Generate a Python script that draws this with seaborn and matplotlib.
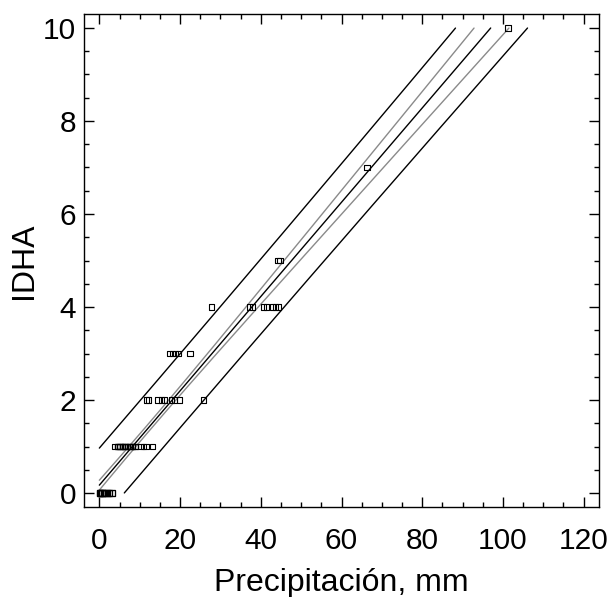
import numpy as np
import pandas as pd
import matplotlib
matplotlib.use("Agg")
import matplotlib.pyplot as plt
import seaborn as sns
from matplotlib.ticker import MultipleLocator

# ---- data (dense clusters hold overlapping points) ----
precip_0 = [0.0, 0.0, 0.0, 0.0, 0.3, 0.3, 0.3, 0.3, 0.6, 0.6, 0.6, 0.6,
            1.0, 1.0, 1.0, 1.0, 1.5, 1.5, 1.5, 2.0, 2.0, 2.0, 2.5, 2.5, 2.5,
            3.2, 3.2, 3.2]
precip_1 = [3.8, 4.5, 4.5, 4.5, 4.5, 5.1, 5.1, 5.1, 5.1, 5.7, 5.7, 5.7, 5.7,
            6.3, 6.3, 6.3, 6.3, 7.0, 7.0, 7.0, 7.6, 7.6, 7.6, 8.2, 8.2, 8.2,
            8.8, 8.8, 8.8, 10.3, 10.9, 11.5, 13.2]
precip_2 = [11.7, 12.2, 14.6, 15.4, 16.1, 17.9, 18.6, 19.9, 25.8]
precip_3 = [17.4, 18.1, 18.9, 19.6, 22.5]
precip_4 = [27.8, 37.2, 38.0, 40.7, 41.4, 42.9, 43.7, 44.4]
precip_5 = [44.2, 44.8]
precip_7 = [66.3]
precip_10 = [101.2]

groups = [(0, precip_0), (1, precip_1), (2, precip_2), (3, precip_3),
          (4, precip_4), (5, precip_5), (7, precip_7), (10, precip_10)]
x = np.array([v for _, g in groups for v in g])
y = np.array([float(k) for k, g in groups for _ in g])
df = pd.DataFrame({"Precipitación": x, "IDHA": y})

# ---- linear fit with 95% confidence and prediction limits ----
n = len(x)
b, a = np.polyfit(x, y, 1)
s = np.sqrt(np.sum((y - (a + b * x)) ** 2) / (n - 2))
xm = x.mean()
sxx = np.sum((x - xm) ** 2)
tval = 2.0
xg = np.linspace(0, 125, 4000)
yhat = a + b * xg
hw_c = tval * s * np.sqrt(1 / n + (xg - xm) ** 2 / sxx)
hw_p = tval * s * np.sqrt(1 + 1 / n + (xg - xm) ** 2 / sxx)

curves = [
    (yhat + hw_p, "black"),
    (yhat + hw_c, "#8a8a8a"),
    (yhat, "black"),
    (yhat - hw_c, "#8a8a8a"),
    (yhat - hw_p, "black"),
]

sns.set_style("ticks")
plt.rcParams["font.family"] = ["Liberation Sans", "DejaVu Sans"]

fig = plt.figure(figsize=(6.11, 5.97), dpi=100)
ax = fig.add_axes([84 / 611, 1 - 507 / 597, (599 - 84) / 611, (507 - 14) / 597])

for yy, col in curves:
    m = (yy >= 0) & (yy <= 10)
    sns.lineplot(x=xg[m], y=yy[m], ax=ax, color=col, linewidth=1.0,
                 estimator=None, sort=False)

sns.scatterplot(data=df, x="Precipitación", y="IDHA", ax=ax, marker="s", s=16,
                facecolor="none", edgecolor="black", linewidth=0.8, zorder=5)

ax.set_xlim(-3.8, 123.8)
ax.set_ylim(-0.3, 10.3)
ax.xaxis.set_major_locator(MultipleLocator(20))
ax.xaxis.set_minor_locator(MultipleLocator(5))
ax.yaxis.set_major_locator(MultipleLocator(2))
ax.yaxis.set_minor_locator(MultipleLocator(0.5))
ax.tick_params(which="both", direction="in", top=True, right=True, width=1.0, color="black")
ax.tick_params(which="major", length=7, labelsize=21.5, labelcolor="black")
ax.tick_params(axis="y", which="major", pad=5.5)
ax.tick_params(axis="x", which="major", pad=14.5)
ax.tick_params(which="minor", length=3.5)
for sp in ax.spines.values():
    sp.set_linewidth(1.0)
    sp.set_color("black")

ax.set_xlabel("Precipitación, mm", fontsize=23, color="black")
ax.set_ylabel("IDHA", fontsize=23, color="black")
ax.xaxis.set_label_coords(0.5, -0.1245)
ax.yaxis.set_label_coords(-0.0874, 0.5)

fig.savefig("out.png", dpi=100)
